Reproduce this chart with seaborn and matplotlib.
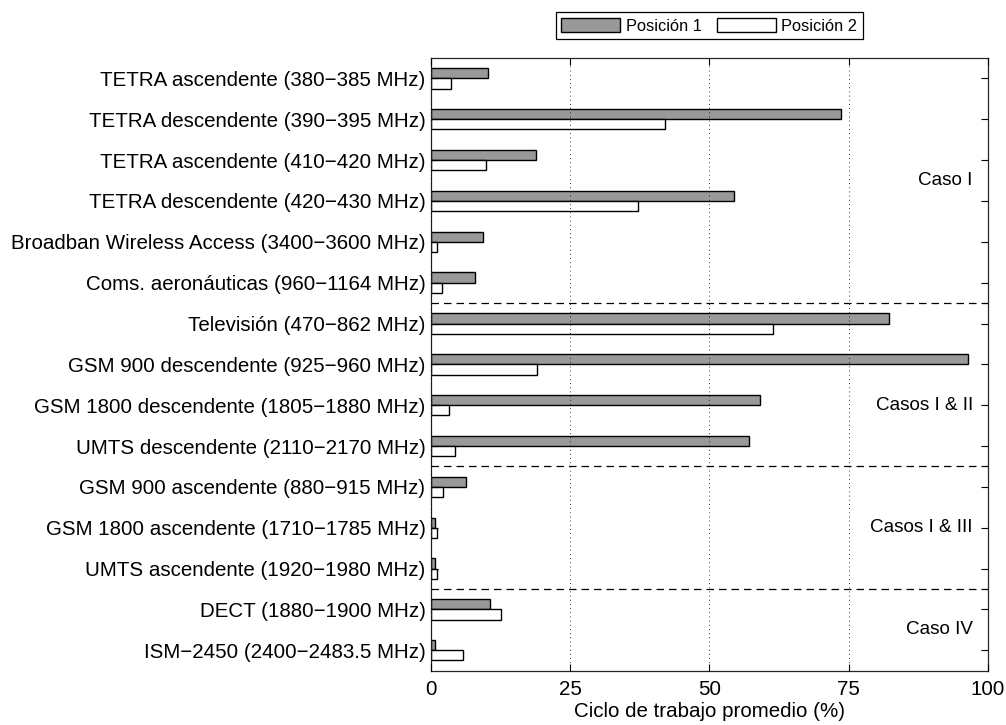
import matplotlib
matplotlib.use("Agg")
import matplotlib.pyplot as plt
import seaborn as sns
import pandas as pd

# datos
bandas = [
    "TETRA ascendente (380\u2212385 MHz)",
    "TETRA descendente (390\u2212395 MHz)",
    "TETRA ascendente (410\u2212420 MHz)",
    "TETRA descendente (420\u2212430 MHz)",
    "Broadban Wireless Access (3400\u22123600 MHz)",
    "Coms. aeronáuticas (960\u22121164 MHz)",
    "Televisión (470\u2212862 MHz)",
    "GSM 900 descendente (925\u2212960 MHz)",
    "GSM 1800 descendente (1805\u22121880 MHz)",
    "UMTS descendente (2110\u22122170 MHz)",
    "GSM 900 ascendente (880\u2212915 MHz)",
    "GSM 1800 ascendente (1710\u22121785 MHz)",
    "UMTS ascendente (1920\u22121980 MHz)",
    "DECT (1880\u22121900 MHz)",
    "ISM\u22122450 (2400\u22122483.5 MHz)",
]
posicion1 = [10.3, 73.6, 18.9, 54.4, 9.3, 7.9, 82.2, 96.5, 59.0, 57.1, 6.3, 0.7, 0.7, 10.6, 0.7]
posicion2 = [3.6, 42.0, 9.9, 37.2, 1.1, 2.0, 61.4, 19.0, 3.3, 4.4, 2.2, 1.1, 1.1, 12.5, 5.8]
series = ["Posición 1", "Posición 2"]

casos = ["Caso I", "Casos I & II", "Casos I & III", "Caso IV"]
casos_y = [2.5, 8.0, 11.0, 13.5]
separadores = [5.5, 9.5, 12.5]

df = pd.DataFrame({
    "banda": bandas * 2,
    "valor": posicion1 + posicion2,
    "posicion": [series[0]] * len(bandas) + [series[1]] * len(bandas),
})

sns.set_style("ticks")
plt.rcParams["font.family"] = ["Liberation Sans", "DejaVu Sans"]
plt.rcParams["text.color"] = "black"
plt.rcParams["axes.labelcolor"] = "black"
plt.rcParams["xtick.direction"] = "in"
plt.rcParams["ytick.direction"] = "in"

fig = plt.figure(figsize=(10.06, 7.25), dpi=100)
ax = fig.add_axes([0.4284, 0.0749, 0.5536, 0.8451])

sns.barplot(data=df, y="banda", x="valor", hue="posicion", hue_order=series,
            orient="h", palette=["#999999", "white"], edgecolor="black",
            linewidth=1, width=0.5, errorbar=None, ax=ax)

ax.set_xlim(0, 100)
ax.set_ylim(14.5, -0.5)
ax.set_xticks([0, 25, 50, 75, 100])
ax.set_xticklabels(["0", "25", "50", "75", "100"])
ax.tick_params(axis="both", labelsize=14.8, length=5, width=0.8,
               top=True, right=True, colors="black", pad=4)
ax.tick_params(axis="x", pad=7)
ax.set_xlabel("Ciclo de trabajo promedio (%)", fontsize=14.8, labelpad=2)
ax.set_ylabel("")
ax.xaxis.grid(True, linestyle=(0, (1, 4)), color="black", linewidth=0.6)
ax.set_axisbelow(False)
for s in ax.spines.values():
    s.set_visible(True)
    s.set_linewidth(0.9)

for y in separadores:
    ax.axhline(y, color="black", linestyle=(0, (6, 4)), linewidth=0.9)

for txt, y in zip(casos, casos_y):
    ax.text(97.3, y, txt, ha="right", va="center", fontsize=13.6, color="black")

leg = ax.legend(ncol=2, loc="lower center", bbox_to_anchor=(0.5, 1.031),
                borderaxespad=0, fontsize=11.8, handlelength=3.6, handleheight=0.95,
                handletextpad=0.35, columnspacing=0.9, borderpad=0.33,
                fancybox=False, framealpha=1, edgecolor="black", title=None)
leg.get_frame().set_linewidth(0.9)
for t in leg.get_texts():
    t.set_color("black")

fig.savefig("out.png", dpi=100)
